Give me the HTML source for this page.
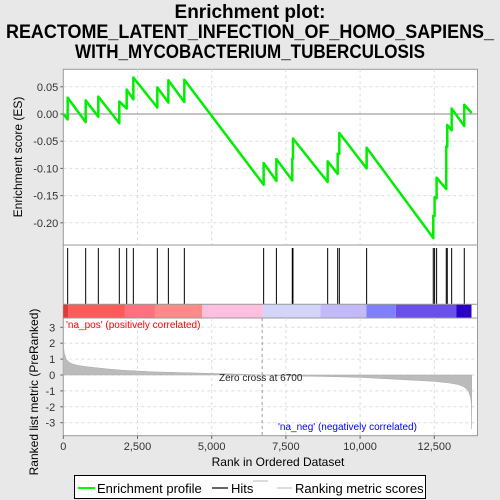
<!DOCTYPE html>
<html><head><meta charset="utf-8"><style>
body{margin:0;background:#e8e8e8;}
svg{display:block;font-family:"Liberation Sans","DejaVu Sans",sans-serif;}
</style></head><body>
<svg id="chart" width="500" height="500" viewBox="0 0 500 500">
<rect x="0" y="0" width="500" height="500" fill="#e8e8e8"/>
<g font-weight="bold" font-size="19" text-anchor="middle" fill="#000">
<text x="250" y="18">Enrichment plot:</text>
<text x="250" y="38" textLength="488" lengthAdjust="spacingAndGlyphs">REACTOME_LATENT_INFECTION_OF_HOMO_SAPIENS_</text>
<text x="250" y="58" textLength="350" lengthAdjust="spacingAndGlyphs">WITH_MYCOBACTERIUM_TUBERCULOSIS</text>
</g>
<g id="es-panel"></g>
<g id="hits-panel"></g>
<g id="bar-panel"></g>
<g id="metric-panel"></g>
<g id="axes"></g>
<g>
<rect x="74.5" y="475.5" width="351" height="23" fill="#fff" stroke="#000"/>
<line x1="78" y1="488" x2="95" y2="488" stroke="#00ff00" stroke-width="2"/>
<text x="97" y="493" font-size="13">Enrichment profile</text>
<line x1="212" y1="488" x2="228" y2="488" stroke="#000" stroke-width="1.2"/>
<text x="231" y="493" font-size="13">Hits</text>
<line x1="253" y1="481" x2="268" y2="481" stroke="#bbb"/>
<line x1="277" y1="488" x2="292" y2="488" stroke="#bbb"/>
<text x="295" y="493" font-size="13">Ranking metric scores</text>
</g>
</svg>
<script>
const hitRanks=[147,754,1180,1887,2135,2360,3168,3540,4078,6750,7180,7715,7738,8907,9244,9300,10220,12465,12510,12578,12903,12937,13085,13510];
const esBefore=[-0.010,-0.015,-0.005,-0.017,0.010,0.027,0.012,0.021,0.022,-0.130,-0.123,-0.122,-0.082,-0.125,-0.110,-0.073,-0.100,-0.228,-0.187,-0.155,-0.138,-0.060,-0.030,-0.022];
const esAfter=[0.030,0.025,0.032,0.023,0.045,0.067,0.049,0.062,0.063,-0.090,-0.083,-0.082,-0.045,-0.087,-0.073,-0.035,-0.062,-0.187,-0.153,-0.117,-0.060,-0.020,0.010,0.017];
const esEnd=0.002;
const totalRanks=13760;
const xTicks=[0,2500,5000,7500,10000,12500];
const xTickLabels=["0","2,500","5,000","7,500","10,000","12,500"];
const esTicks=[0.05,0,-0.05,-0.10,-0.15,-0.20];
const esTickLabels=["0.05","0.00","-0.05","-0.10","-0.15","-0.20"];
const mTicks=[3,2,1,0,-1,-2,-3];
const metricRanks=[0,30,100,200,300,500,800,1000,1500,2000,3000,4000,5000,6000,6700,8000,9000,10000,10500,11500,12500,13000,13300,13500,13650,13720,13750,13760];
const metricValues=[1.9,1.4,1.0,0.8,0.7,0.6,0.52,0.48,0.38,0.3,0.2,0.15,0.1,0.05,0,-0.07,-0.1,-0.15,-0.2,-0.3,-0.4,-0.5,-0.6,-0.75,-1.0,-1.4,-1.8,-3.4];
const barStops=[0,170,2077,3087,4680,6724,8666,10216,11204,13248,13753];
const barColors=["#e03a3a","#ff5a5a","#ff7080","#ff8a8a","#ffc0e0","#d4d4fa","#c2baf8","#8080ff","#6a50e8","#2a00c8"];
const zeroCross=6700;

const NS="http://www.w3.org/2000/svg";
function el(tag,attrs,parent){const e=document.createElementNS(NS,tag);for(const k in attrs)e.setAttribute(k,attrs[k]);parent.appendChild(e);return e;}
const L=63.3,R=477.5;
const xs=r=>L+r/2500*74.2;
const yES=v=>114-v/0.05*27.2;
const yM=v=>375-v*15.9;
const esP=document.getElementById('es-panel'),hitP=document.getElementById('hits-panel'),barP=document.getElementById('bar-panel'),mP=document.getElementById('metric-panel'),ax=document.getElementById('axes');

let r=el('rect',{x:L,y:69.3,width:R-L,height:175.7,fill:'#fff',stroke:'#999'},esP);


xTicks.forEach(t=>{if(t>0){let g=el('line',{x1:xs(t),x2:xs(t),y1:69.3,y2:245,stroke:'#ddd','stroke-dasharray':'3,3'},esP);}});
esTicks.forEach((t,i)=>{
 let g=el('line',{x1:L,x2:R,y1:yES(t),y2:yES(t),stroke:t===0?'#888':'#ddd','stroke-dasharray':t===0?'':'3,3'},esP);
 
 
 el('line',{x1:L-3,x2:L,y1:yES(t),y2:yES(t),stroke:'#666'},esP);
 let tx=el('text',{x:L-5,y:yES(t)+4,'font-size':11,'text-anchor':'end',fill:'#333'},esP);
 tx.textContent=esTickLabels[i];
 
 
});
let pts=[[0,0]];
hitRanks.forEach((h,i)=>{pts.push([h,esBefore[i]]);pts.push([h,esAfter[i]]);});
pts.push([totalRanks,esEnd]);
let p=el('polyline',{points:pts.map(q=>xs(q[0])+','+yES(q[1])).join(' '),fill:'none',stroke:'#00ee00','stroke-width':2.5,'stroke-linejoin':'round'},esP);


let yl=el('text',{x:0,y:0,'font-size':12,'text-anchor':'middle',transform:'translate(22,157) rotate(-90)',fill:'#000'},esP);
yl.textContent='Enrichment score (ES)';



r=el('rect',{x:L,y:245,width:R-L,height:73,fill:'#fff',stroke:'#999'},hitP);


hitRanks.forEach(h=>{let l=el('line',{x1:xs(h),x2:xs(h),y1:248,y2:304,stroke:'#000','stroke-width':1},hitP);});
for(let i=0;i<barColors.length;i++){
 let b=el('rect',{x:xs(barStops[i]),y:304.5,width:xs(barStops[i+1])-xs(barStops[i]),height:13.5,fill:barColors[i]},barP);
 
 
}
el('line',{x1:L,x2:R,y1:304.3,y2:304.3,stroke:'#999'},barP);

r=el('rect',{x:L,y:318,width:R-L,height:117.7,fill:'#fff',stroke:'#999'},mP);


xTicks.forEach(t=>{if(t>0){let g=el('line',{x1:xs(t),x2:xs(t),y1:318,y2:435.7,stroke:'#ddd','stroke-dasharray':'3,3'},mP);}});
mTicks.forEach(t=>{
 let g=el('line',{x1:L,x2:R,y1:yM(t),y2:yM(t),stroke:'#ddd','stroke-dasharray':'3,3'},mP);
 
 
 el('line',{x1:L-3,x2:L,y1:yM(t),y2:yM(t),stroke:'#666'},mP);
 let tx=el('text',{x:L-8,y:yM(t)+4,'font-size':11,'text-anchor':'end',fill:'#333'},mP);
 tx.textContent=String(t);
 
 
});
let mp='M'+xs(0)+','+yM(0)+' '+metricRanks.map((q,i)=>'L'+xs(q)+','+yM(metricValues[i])).join(' ')+' L'+xs(totalRanks)+','+yM(0)+'Z';
let area=el('path',{d:mp,fill:'#bbb',stroke:'#aaa','stroke-width':0.5},mP);


let zl=el('line',{x1:xs(zeroCross),x2:xs(zeroCross),y1:318,y2:435.7,stroke:'#999','stroke-dasharray':'3,3'},mP);


let zt=el('text',{x:219,y:381,'font-size':10,fill:'#222'},mP);
zt.textContent='Zero cross at '+zeroCross;


let pt=el('text',{x:66,y:328,'font-size':10,fill:'#f00'},mP);
pt.textContent="'na_pos' (positively correlated)";


let nt=el('text',{x:278,y:430,'font-size':10,fill:'#00f'},mP);
nt.textContent="'na_neg' (negatively correlated)";


let ml=el('text',{x:0,y:0,'font-size':12,'text-anchor':'middle',transform:'translate(38,392) rotate(-90)',fill:'#000'},mP);
ml.textContent='Ranked list metric (PreRanked)';



xTicks.forEach((t,i)=>{
 el('line',{x1:xs(t),x2:xs(t),y1:435.7,y2:439,stroke:'#666'},ax);
 let tx=el('text',{x:xs(t),y:450,'font-size':11,'text-anchor':'middle',fill:'#333'},ax);
 tx.textContent=xTickLabels[i];
 
 
});
let xt=el('text',{x:278,y:466,'font-size':12,'text-anchor':'middle',fill:'#000'},ax);
xt.textContent='Rank in Ordered Dataset';


</script>
</body></html>
